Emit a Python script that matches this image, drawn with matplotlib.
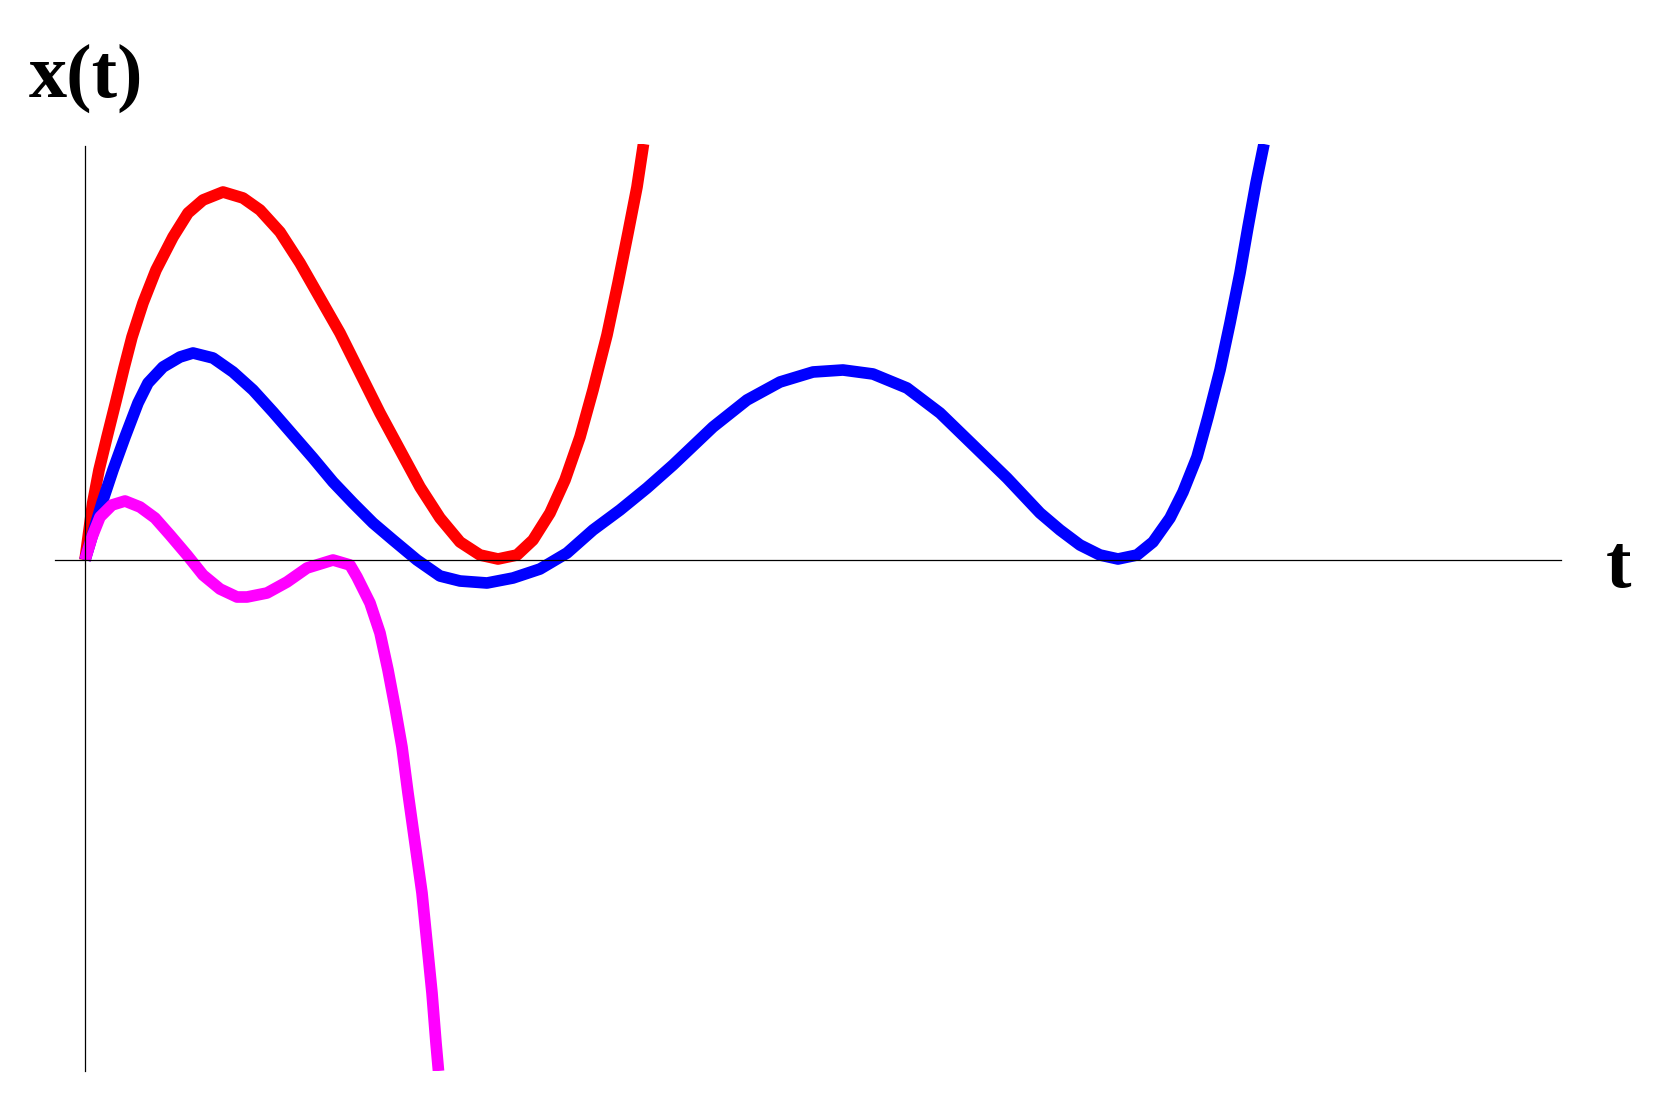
import matplotlib
matplotlib.use("Agg")
import matplotlib.pyplot as plt

# curves (t, x)
red_t = [0.00, 0.077, 0.14, 0.22, 0.31, 0.39, 0.47, 0.58, 0.71, 0.88, 1.03, 1.18, 1.38,
         1.58, 1.75, 1.95, 2.15, 2.35, 2.55, 2.75, 2.95, 3.15, 3.35, 3.55, 3.75, 3.95,
         4.13, 4.32, 4.48, 4.65, 4.80, 4.95, 5.08, 5.22, 5.33, 5.43, 5.52, 5.585]
red_x = [0.00, 0.57, 0.90, 1.23, 1.59, 1.92, 2.23, 2.57, 2.90, 3.23, 3.47, 3.60, 3.68,
         3.62, 3.50, 3.28, 2.97, 2.62, 2.27, 1.87, 1.47, 1.10, 0.73, 0.42, 0.18, 0.05,
         0.01, 0.05, 0.20, 0.47, 0.80, 1.23, 1.70, 2.25, 2.77, 3.27, 3.73, 4.16]

blue_t = [0.00, 0.17, 0.28, 0.40, 0.53, 0.63, 0.78, 0.95, 1.08, 1.28, 1.48, 1.68, 1.88,
          2.08, 2.28, 2.48, 2.68, 2.88, 3.08, 3.32, 3.55, 3.75, 4.02, 4.28, 4.55, 4.82,
          5.08, 5.35, 5.62, 5.88, 6.28, 6.62, 6.95, 7.28, 7.58, 7.88, 8.22, 8.55, 8.88,
          9.22, 9.55, 9.75, 9.95, 10.15, 10.33, 10.52, 10.68, 10.85, 10.98, 11.12, 11.23,
          11.35, 11.45, 11.55, 11.63, 11.71, 11.79]
blue_x = [0.00, 0.57, 0.90, 1.23, 1.57, 1.77, 1.93, 2.03, 2.07, 2.02, 1.88, 1.70, 1.48,
          1.25, 1.02, 0.78, 0.57, 0.37, 0.20, 0.00, -0.16, -0.21, -0.23, -0.18, -0.09, 0.07,
          0.30, 0.50, 0.72, 0.95, 1.33, 1.60, 1.78, 1.88, 1.90, 1.86, 1.72, 1.47, 1.15,
          0.82, 0.47, 0.30, 0.15, 0.05, 0.01, 0.05, 0.18, 0.42, 0.68, 1.03, 1.43,
          1.90, 2.37, 2.87, 3.33, 3.77, 4.16]

magenta_t = [0.00, 0.07, 0.15, 0.27, 0.40, 0.55, 0.70, 0.85, 1.02, 1.18, 1.35, 1.52, 1.62,
             1.82, 2.02, 2.22, 2.48, 2.65, 2.72, 2.85, 2.95, 3.03, 3.10, 3.17, 3.23, 3.30,
             3.37, 3.42, 3.47, 3.51, 3.535]
magenta_x = [0.00, 0.23, 0.43, 0.55, 0.59, 0.53, 0.42, 0.25, 0.05, -0.15, -0.29, -0.37, -0.37,
             -0.33, -0.22, -0.08, 0.00, -0.05, -0.17, -0.43, -0.73, -1.10, -1.47, -1.87, -2.33, -2.83,
             -3.33, -3.83, -4.33, -4.83, -5.11]

W, H = 1656, 1104
fig = plt.figure(figsize=(W / 100, H / 100), dpi=100)
ax = fig.add_axes([0, (H - 1071) / H, 1, (1071 - 144) / H])
ax.set_xlim(-0.85, 15.71)
ax.set_ylim(-5.11, 4.16)

style = dict(lw=8.4, solid_capstyle="butt", solid_joinstyle="round")
ax.plot(red_t, red_x, color="#FF0000", **style)
ax.plot(blue_t, blue_x, color="#0000FF", **style)
ax.plot(magenta_t, magenta_x, color="#FF00FF", **style)

# axes crossing at the origin
for side in ["top", "right"]:
    ax.spines[side].set_visible(False)
ax.spines["left"].set_position(("data", 0))
ax.spines["bottom"].set_position(("data", 0))
ax.spines["left"].set_bounds(-5.11, 4.14)
ax.spines["bottom"].set_bounds(-0.30, 14.76)
ax.spines["left"].set_linewidth(0.9)
ax.spines["bottom"].set_linewidth(0.9)
ax.set_xticks([])
ax.set_yticks([])
ax.patch.set_visible(False)

font = dict(family="Liberation Serif", weight="bold", size=55)
fig.text(29 / W, 1 - 97 / H, "x(t)", va="baseline", ha="left", **font)
fig.text(1606 / W, 1 - 587 / H, "t", va="baseline", ha="left", **font)

fig.savefig("out.png", dpi=100, facecolor="white")
